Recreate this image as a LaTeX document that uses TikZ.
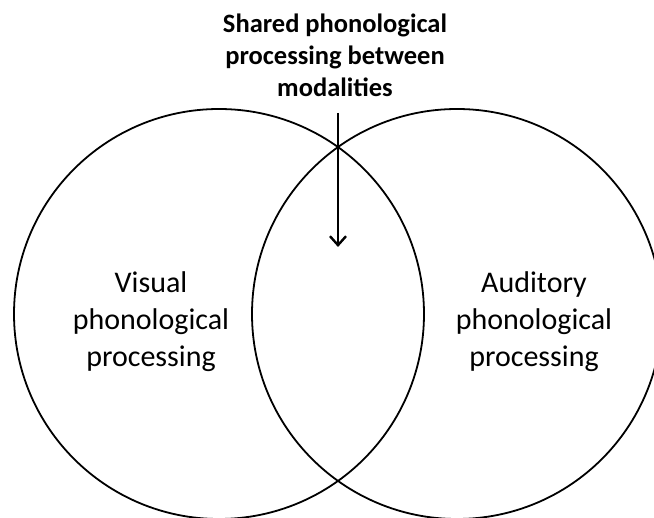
\documentclass[tikz,border=0pt]{standalone}
\usepackage{fontspec}
\setmainfont{Carlito}
\usetikzlibrary{arrows.meta}
\begin{document}
\begin{tikzpicture}[x=1pt,y=-1pt,
  set/.style={circle,draw=black,line width=1.8pt,minimum size=410pt,inner sep=0pt},
  label/.style={align=center,inner sep=0pt,font=\fontsize{30}{37}\selectfont},
  heading/.style={align=center,inner sep=0pt,font=\bfseries\fontsize{26.5}{32}\selectfont},
  pointer/.style={line width=2.4pt,-{Straight Barb[length=9pt,width=16pt,line width=2.4pt]}}]
  \useasboundingbox (0,0) rectangle (654,518);
  % the two modalities
  \node[set] (visual) at (219,314) {};
  \node[set] (auditory) at (457,314) {};
  % labels inside each set (base = last line's baseline)
  \node[label,anchor=base] (vtext) at (151,367) {Visual\\phonological\\processing};
  \node[label,anchor=base] (atext) at (534,367) {Auditory\\phonological\\processing};
  % heading above the overlap
  \node[heading,anchor=base] (shared) at (335,97) {Shared phonological\\processing between\\modalities};
  % arrow into the overlap
  \coordinate (tail) at (338,113);
  \coordinate (tip) at (338,247);
  \draw[pointer] (tail) -- (tip);
\end{tikzpicture}
\end{document}
